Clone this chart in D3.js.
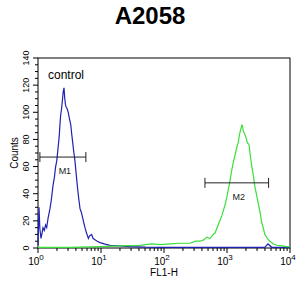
<!DOCTYPE html>
<html>
<head>
<meta charset="utf-8">
<script src="https://cdn.jsdelivr.net/npm/d3@7"></script>
<style>
  body { margin: 0; background: #fff; }
  text { font-family: "Liberation Sans", Arial, sans-serif; }
</style>
</head>
<body>
<div id="chart"></div>
<script>
/* DATA */
const title = "A2058";
const xLabel = "FL1-H";
const yLabel = "Counts";
const xDecades = [0, 1, 2, 3, 4];
const yTicks = [0, 20, 40, 60, 80, 100, 120, 140];

// control histogram: [log10(FL1-H), count]
const controlData = [
  [0.0, 2], [0.016, 30], [0.03, 14], [0.048, 7], [0.065, 11], [0.079, 15], [0.1, 13],
  [0.12, 17], [0.138, 15], [0.16, 22], [0.19, 29], [0.21, 35], [0.238, 46], [0.26, 52],
  [0.28, 60], [0.297, 64], [0.315, 72], [0.338, 83], [0.35, 92], [0.36, 98], [0.375, 103],
  [0.39, 110], [0.40, 115], [0.413, 118], [0.425, 110], [0.435, 106], [0.444, 104],
  [0.46, 103], [0.48, 100], [0.50, 95], [0.52, 91], [0.535, 84], [0.55, 78], [0.57, 70],
  [0.587, 64], [0.605, 55], [0.624, 46], [0.645, 37], [0.667, 29], [0.69, 26], [0.71, 22],
  [0.73, 18], [0.746, 15], [0.77, 11], [0.8, 7], [0.82, 9], [0.85, 10], [0.875, 7],
  [0.905, 6], [0.94, 5], [0.984, 4], [1.05, 3], [1.14, 2], [1.3, 1.5], [1.46, 1],
  [1.7, 0.6], [1.94, 0.5], [2.3, 0.4], [2.57, 0.4], [3.0, 0.4], [3.5, 0.4], [3.6, 0.5],
  [3.65, 3], [3.71, 0.5], [4.0, 0.4]
];

// sample histogram: [log10(FL1-H), count]
const sampleData = [
  [0.0, 0.5], [0.5, 0.5], [0.984, 1], [1.3, 1.5], [1.62, 2], [1.8, 3], [1.94, 2.5],
  [2.1, 3], [2.25, 3.5], [2.41, 3.5], [2.5, 5], [2.57, 5], [2.63, 6], [2.68, 8],
  [2.73, 7], [2.78, 10], [2.81, 11], [2.86, 17], [2.92, 24], [2.97, 32], [3.0, 38],
  [3.02, 43], [3.05, 50], [3.07, 56], [3.1, 63], [3.13, 69], [3.16, 75], [3.18, 78],
  [3.2, 84], [3.22, 88], [3.24, 91], [3.26, 86], [3.29, 83], [3.31, 80], [3.32, 78],
  [3.35, 76], [3.37, 68], [3.39, 61], [3.42, 53], [3.44, 46], [3.47, 39], [3.50, 32],
  [3.53, 25], [3.55, 19], [3.58, 14], [3.60, 10], [3.64, 7], [3.68, 5], [3.74, 3],
  [3.79, 2], [3.87, 1.5], [3.95, 1], [4.0, 1]
];

// markers: [label, log10 start, log10 end, count level]
const markers = [
  ["M1", 0.03, 0.76, 67],
  ["M2", 2.65, 3.66, 48]
];

/* LAYOUT */
const width = 305, height = 296,
  margin = { top: 58, right: 15, bottom: 48, left: 38 };

const svg = d3.select("#chart").append("svg")
  .attr("width", width)
  .attr("height", height);

const x = d3.scaleLog()
  .domain([1, 1e4])
  .range([margin.left, width - margin.right]);

const y = d3.scaleLinear()
  .domain([0, 140])
  .range([height - margin.bottom, margin.top]);

// title
svg.append("text")
  .attr("x", 150)
  .attr("y", 24)
  .attr("text-anchor", "middle")
  .attr("font-size", 24)
  .attr("font-weight", "bold")
  .text(title);

// frame
svg.append("rect")
  .attr("x", margin.left)
  .attr("y", margin.top)
  .attr("width", width - margin.left - margin.right)
  .attr("height", height - margin.top - margin.bottom)
  .attr("fill", "none")
  .attr("stroke", "#000")
  .attr("stroke-width", 1);

// x axis ticks
const minor = [];
xDecades.slice(0, -1).forEach(d => {
  for (let k = 2; k < 10; k++) minor.push(k * Math.pow(10, d));
});
const xAxisG = svg.append("g");
xAxisG.selectAll("line.minor")
  .data(minor)
  .join("line")
  .attr("x1", d => x(d)).attr("x2", d => x(d))
  .attr("y1", y(0)).attr("y2", y(0) + 3)
  .attr("stroke", "#000");
xAxisG.selectAll("line.major")
  .data(xDecades)
  .join("line")
  .attr("x1", d => x(Math.pow(10, d))).attr("x2", d => x(Math.pow(10, d)))
  .attr("y1", y(0)).attr("y2", y(0) + 5)
  .attr("stroke", "#000");
const xl = xAxisG.selectAll("text")
  .data(xDecades)
  .join("text")
  .attr("x", d => x(Math.pow(10, d)) - 2)
  .attr("y", y(0) + 17)
  .attr("text-anchor", "middle")
  .attr("font-size", 10);
xl.append("tspan").text("10");
xl.append("tspan")
  .attr("dy", -5)
  .attr("font-size", 8)
  .text(d => d);

svg.append("text")
  .attr("x", x(100))
  .attr("y", y(0) + 28)
  .attr("text-anchor", "middle")
  .attr("font-size", 10)
  .text(xLabel);

// y axis ticks
const yMinor = d3.range(0, 141, 5);
svg.append("g").selectAll("line")
  .data(yMinor)
  .join("line")
  .attr("x1", d => margin.left - (d % 20 === 0 ? 5 : 3))
  .attr("x2", margin.left)
  .attr("y1", d => y(d)).attr("y2", d => y(d))
  .attr("stroke", "#000");

svg.append("g").selectAll("text")
  .data(yTicks)
  .join("text")
  .attr("transform", d => `translate(${margin.left - 9},${y(d)}) rotate(-90)`)
  .attr("text-anchor", "middle")
  .attr("font-size", 9)
  .text(d => d);

svg.append("text")
  .attr("transform", `translate(18,${y(70)}) rotate(-90)`)
  .attr("text-anchor", "middle")
  .attr("font-size", 10)
  .text(yLabel);

// histograms
const line = d3.line()
  .x(d => x(Math.pow(10, d[0])))
  .y(d => y(d[1]));

svg.append("path")
  .datum(controlData)
  .attr("d", line)
  .attr("fill", "none")
  .attr("stroke", "#1f22b0")
  .attr("stroke-width", 1.2);

svg.append("path")
  .datum(sampleData)
  .attr("d", line)
  .attr("fill", "none")
  .attr("stroke", "#3adf3a")
  .attr("stroke-width", 1.2);

// markers
markers.forEach(([label, a, b, lvl]) => {
  const g = svg.append("g").attr("stroke", "#222");
  const x0 = x(Math.pow(10, a)), x1 = x(Math.pow(10, b)), yy = y(lvl);
  g.append("line").attr("x1", x0).attr("x2", x1).attr("y1", yy).attr("y2", yy);
  g.append("line").attr("x1", x0).attr("x2", x0).attr("y1", yy - 5).attr("y2", yy + 5);
  g.append("line").attr("x1", x1).attr("x2", x1).attr("y1", yy - 5).attr("y2", yy + 5);
  svg.append("text")
    .attr("x", (x0 + x1) / 2 + 2)
    .attr("y", yy + 17)
    .attr("text-anchor", "middle")
    .attr("font-size", 9)
    .attr("fill", "#222")
    .text(label);
});

svg.append("text")
  .attr("x", 48)
  .attr("y", 79)
  .attr("font-size", 12)
  .text("control");
</script>
</body>
</html>
